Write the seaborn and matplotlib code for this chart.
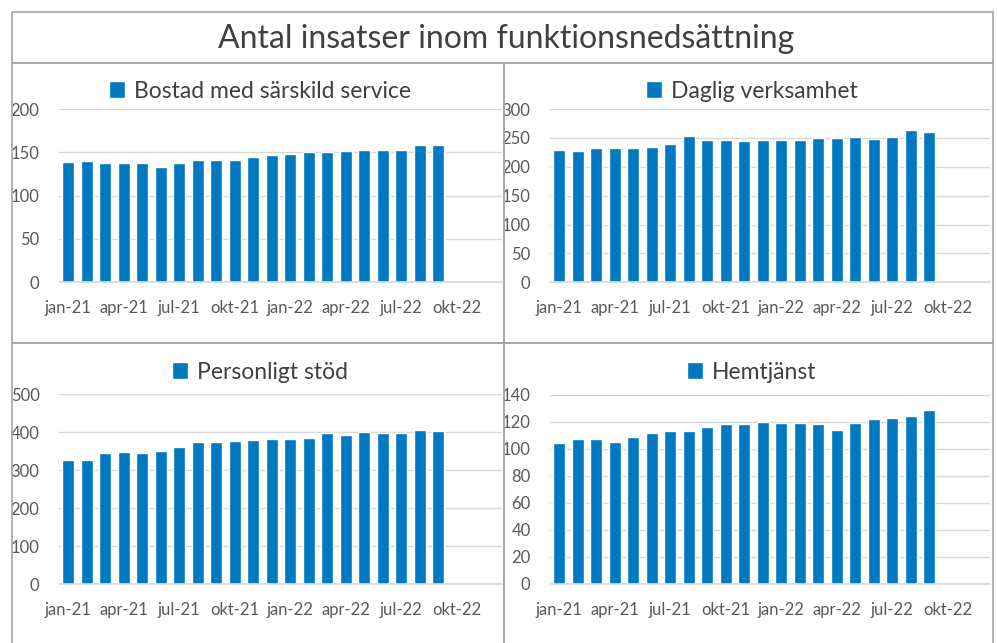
import pandas as pd
import matplotlib.pyplot as plt
import seaborn as sns
from matplotlib.patches import Rectangle

# =========================================================
# データ
# =========================================================
months = ['jan-21', 'feb-21', 'mar-21', 'apr-21', 'maj-21', 'jun-21',
          'jul-21', 'aug-21', 'sep-21', 'okt-21', 'nov-21', 'dec-21',
          'jan-22', 'feb-22', 'mar-22', 'apr-22', 'maj-22', 'jun-22',
          'jul-22', 'aug-22', 'sep-22']
axis_months = months + ['okt-22']

bostad = [139, 140, 138, 138, 138, 133, 138, 141, 141, 141, 145,
          147, 148, 150, 150, 152, 153, 153, 153, 158, 158]
daglig = [229, 228, 232, 233, 233, 235, 239, 254, 247, 247, 244,
          246, 246, 246, 250, 250, 251, 248, 251, 264, 261]
personligt = [327, 327, 346, 348, 345, 352, 361, 375, 375, 376, 380,
              382, 382, 384, 397, 394, 401, 397, 397, 406, 403]
hemtjanst = [104, 107, 107, 105, 109, 112, 113, 113, 116, 118, 118,
             120, 119, 119, 118, 114, 119, 122, 123, 124, 129]

titles = ['Bostad med särskild service', 'Daglig verksamhet',
          'Personligt stöd', 'Hemtjänst']
series = [bostad, daglig, personligt, hemtjanst]
ymax = [200, 300, 500, 140]
ystep = [50, 50, 100, 20]

# =========================================================
# 設定
# =========================================================
sns.set_theme(style='white')
plt.rcParams['font.family'] = ['Lato', 'DejaVu Sans']

W, H = 997, 643
BLUE = '#0079C1'
GRID = '#D9D9D9'
BORDER = '#A6A6A6'
TXT = '#595959'

fig = plt.figure(figsize=(W / 100, H / 100), dpi=100)


def fx(px):
    return px / W


def fy(py):
    return 1 - py / H


# 枠線
def box(x0, y0, x1, y1):
    fig.patches.append(Rectangle((fx(x0), fy(y1)), fx(x1) - fx(x0), fy(y0) - fy(y1),
                                 transform=fig.transFigure, fill=False,
                                 edgecolor=BORDER, lw=1.2, zorder=0))


box(12, 12, 993, 63)
box(12, 63, 504, 343)
box(504, 63, 993, 343)
box(12, 343, 504, 650)
box(504, 343, 993, 650)

fig.text(fx(506), fy(39), 'Antal insatser inom funktionsnedsättning',
         ha='center', va='center', fontsize=23, color='#404040')

# プロット領域 (left, right, top, bottom) in px
areas = [(59, 502, 109, 282.3), (550, 990, 109, 282.3),
         (59, 502, 394.3, 584.3), (550, 990, 394.7, 584)]
legend_pos = [(260, 91), (752, 91), (260, 372), (752, 372)]
slot = 18.5

for i, (name, vals) in enumerate(zip(titles, series)):
    l, r, t, b = areas[i]
    ax = fig.add_axes([fx(l), fy(b), fx(r) - fx(l), fy(t) - fy(b)])
    df = pd.DataFrame({'month': months, 'value': vals})
    sns.barplot(data=df, x='month', y='value', order=axis_months,
                color=BLUE, saturation=1, width=0.63, ax=ax, label=name)
    ax.set_ylim(0, ymax[i])
    ax.set_yticks(range(0, ymax[i] + 1, ystep[i]))
    ax.set_xlim(-0.5, -0.5 + (r - l) / slot)
    ax.set_xticks(range(0, len(axis_months), 3))
    ax.set_xticklabels(axis_months[::3])
    ax.set_xlabel('')
    ax.set_ylabel('')
    ax.grid(axis='y', color=GRID, lw=1)
    ax.set_axisbelow(True)
    for s in ['left', 'right', 'top']:
        ax.spines[s].set_visible(False)
    ax.spines['bottom'].set_color(GRID)
    ax.tick_params(axis='both', length=0, labelsize=12, labelcolor=TXT)
    ax.tick_params(axis='x', pad=13)
    ax.tick_params(axis='y', pad=14)
    ax.patch.set_alpha(0)
    cx, cy = legend_pos[i]
    ax.legend(loc='center', bbox_to_anchor=(fx(cx), fy(cy)),
              bbox_transform=fig.transFigure, frameon=False, fontsize=16.5,
              handlelength=0.7, handleheight=0.7, handletextpad=0.4,
              labelcolor='#404040')

plt.savefig('out.png', dpi=100)
plt.close()
